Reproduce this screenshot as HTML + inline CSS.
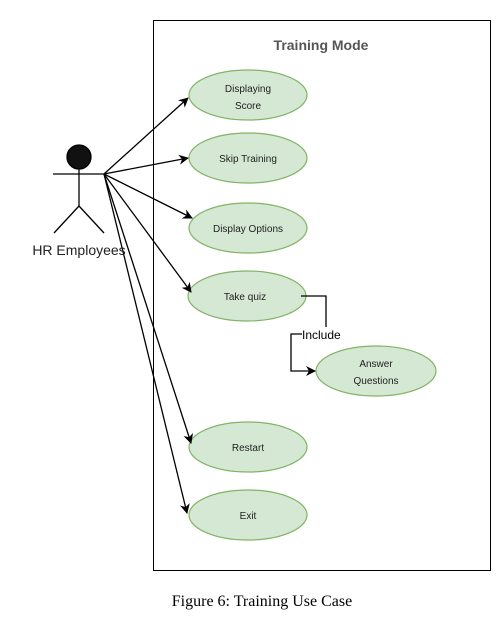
<!DOCTYPE html>
<html><head><style>body{margin:0;background:#fff}svg{display:block}</style></head>
<body>
<svg width="496" height="618" viewBox="0 0 496 618" xmlns="http://www.w3.org/2000/svg" font-family="Liberation Sans, sans-serif">
<defs><marker id="a" markerWidth="10" markerHeight="10" refX="9" refY="5" orient="auto" markerUnits="userSpaceOnUse"><path d="M0,0 L10,5 L0,10 L3,5 Z" fill="#000"/></marker></defs>
<rect x="153.5" y="20.5" width="337" height="550" fill="#fff" stroke="#000" stroke-width="1"/>
<text x="321" y="50" text-anchor="middle" font-size="14" font-weight="bold" fill="#555">Training Mode</text>
<g fill="#d5e8d4" stroke="#82b366" stroke-width="1.2">
<ellipse cx="248" cy="95" rx="59" ry="25"/>
<ellipse cx="248" cy="158" rx="59" ry="25"/>
<ellipse cx="248" cy="228" rx="59" ry="25"/>
<ellipse cx="247" cy="296" rx="59" ry="25"/>
<ellipse cx="376" cy="371" rx="60" ry="25"/>
<ellipse cx="248" cy="447" rx="59" ry="25"/>
<ellipse cx="248" cy="515" rx="59" ry="25"/>
</g>
<g font-size="10" fill="#222" text-anchor="middle">
<text x="248" y="92">Displaying</text><text x="248" y="109">Score</text>
<text x="248" y="162">Skip Training</text>
<text x="248" y="232">Display Options</text>
<text x="245" y="300">Take quiz</text>
<text x="376" y="367">Answer</text><text x="376" y="384">Questions</text>
<text x="248" y="451">Restart</text>
<text x="248" y="519">Exit</text>
</g>
<g stroke="#000" stroke-width="1.3" fill="none">
<circle cx="79" cy="157" r="12" fill="#111"/>
<line x1="79" y1="169" x2="79" y2="206"/>
<line x1="53" y1="174" x2="104" y2="174"/>
<line x1="79" y1="206" x2="54" y2="233"/>
<line x1="79" y1="206" x2="104" y2="233"/>
<g marker-end="url(#a)">
<line x1="104" y1="174" x2="188" y2="98"/>
<line x1="104" y1="174" x2="188" y2="158"/>
<line x1="104" y1="174" x2="192" y2="218"/>
<line x1="104" y1="174" x2="191" y2="292"/>
<line x1="104" y1="174" x2="191" y2="443"/>
<line x1="104" y1="174" x2="187" y2="513"/>
</g>
<polyline points="301,296 326,296 326,327"/>
<polyline points="302,334 291,334 291,371 315,371" marker-end="url(#a)"/>
</g>
<text x="302" y="339" font-size="12" fill="#000">Include</text>
<text x="79" y="255" text-anchor="middle" font-size="14" fill="#222">HR Employees</text>
<text x="262" y="606" text-anchor="middle" font-size="16" font-family="Liberation Serif, serif" fill="#000">Figure 6: Training Use Case</text>
</svg>
</body></html>
